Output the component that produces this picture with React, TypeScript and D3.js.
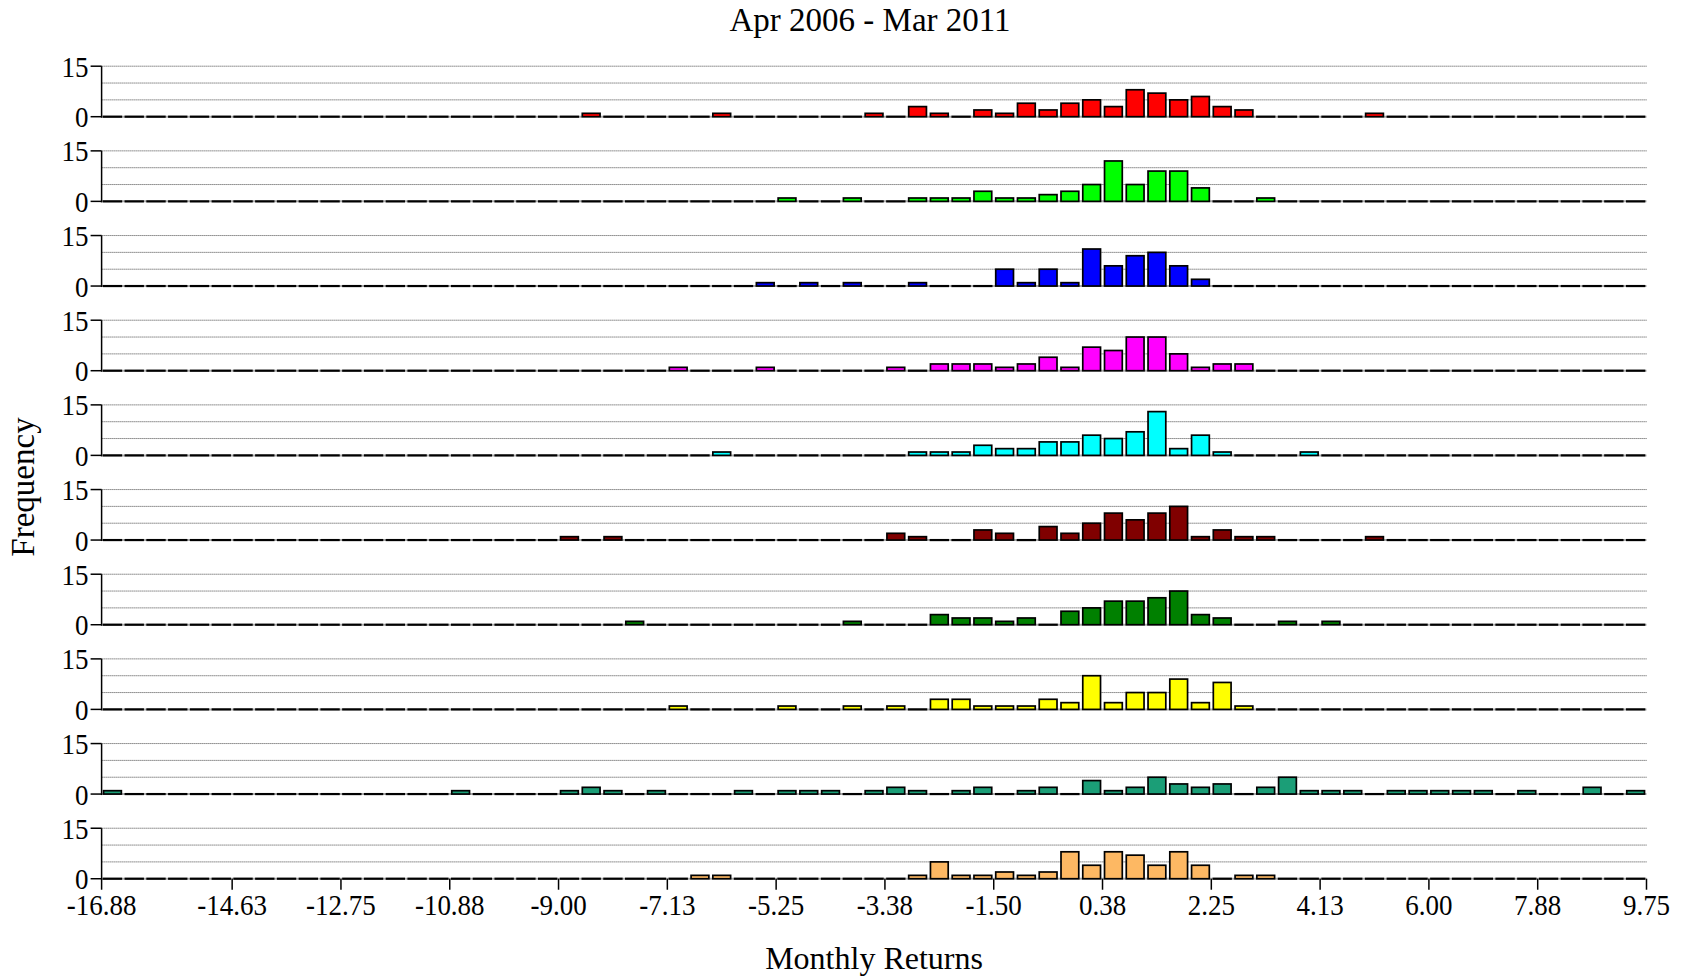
import React from "react";
import * as d3 from "d3";

const TITLE = "Apr 2006 - Mar 2011";
const X_LABEL = "Monthly Returns";
const Y_LABEL = "Frequency";

const X_MIN = -16.875;
const X_MAX = 9.75;
const BIN_WIDTH = 0.375;

const X_TICKS = [-16.875, -14.625, -12.75, -10.875, -9, -7.125, -5.25, -3.375, -1.5, 0.375, 2.25, 4.125, 6, 7.875, 9.75];
const X_TICK_LABELS = ["-16.88", "-14.63", "-12.75", "-10.88", "-9.00", "-7.13", "-5.25", "-3.38", "-1.50", "0.38", "2.25", "4.13", "6.00", "7.88", "9.75"];
const Y_TICKS = [0, 15];
const Y_GRID = [5, 10, 15];
const Y_MAX = 15;

const COLORS = ["#FF0000", "#00FF00", "#0000FF", "#FF00FF", "#00FFFF", "#800000", "#008000", "#FFFF00", "#1B9E77", "#FDB863"];

// counts per bin (71 bins of width 0.375 from -16.875 to 9.75)
const red = [
  0, 0, 0, 0, 0, 0, 0, 0, 0, 0,
  0, 0, 0, 0, 0, 0, 0, 0, 0, 0,
  0, 0, 1, 0, 0, 0, 0, 0, 1, 0,
  0, 0, 0, 0, 0, 1, 0, 3, 1, 0,
  2, 1, 4, 2, 4, 5, 3, 8, 7, 5,
  6, 3, 2, 0, 0, 0, 0, 0, 1, 0,
  0, 0, 0, 0, 0, 0, 0, 0, 0, 0, 0,
];
const green = [
  0, 0, 0, 0, 0, 0, 0, 0, 0, 0,
  0, 0, 0, 0, 0, 0, 0, 0, 0, 0,
  0, 0, 0, 0, 0, 0, 0, 0, 0, 0,
  0, 1, 0, 0, 1, 0, 0, 1, 1, 1,
  3, 1, 1, 2, 3, 5, 12, 5, 9, 9,
  4, 0, 0, 1, 0, 0, 0, 0, 0, 0,
  0, 0, 0, 0, 0, 0, 0, 0, 0, 0, 0,
];
const blue = [
  0, 0, 0, 0, 0, 0, 0, 0, 0, 0,
  0, 0, 0, 0, 0, 0, 0, 0, 0, 0,
  0, 0, 0, 0, 0, 0, 0, 0, 0, 0,
  1, 0, 1, 0, 1, 0, 0, 1, 0, 0,
  0, 5, 1, 5, 1, 11, 6, 9, 10, 6,
  2, 0, 0, 0, 0, 0, 0, 0, 0, 0,
  0, 0, 0, 0, 0, 0, 0, 0, 0, 0, 0,
];
const magenta = [
  0, 0, 0, 0, 0, 0, 0, 0, 0, 0,
  0, 0, 0, 0, 0, 0, 0, 0, 0, 0,
  0, 0, 0, 0, 0, 0, 1, 0, 0, 0,
  1, 0, 0, 0, 0, 0, 1, 0, 2, 2,
  2, 1, 2, 4, 1, 7, 6, 10, 10, 5,
  1, 2, 2, 0, 0, 0, 0, 0, 0, 0,
  0, 0, 0, 0, 0, 0, 0, 0, 0, 0, 0,
];
const cyan = [
  0, 0, 0, 0, 0, 0, 0, 0, 0, 0,
  0, 0, 0, 0, 0, 0, 0, 0, 0, 0,
  0, 0, 0, 0, 0, 0, 0, 0, 1, 0,
  0, 0, 0, 0, 0, 0, 0, 1, 1, 1,
  3, 2, 2, 4, 4, 6, 5, 7, 13, 2,
  6, 1, 0, 0, 0, 1, 0, 0, 0, 0,
  0, 0, 0, 0, 0, 0, 0, 0, 0, 0, 0,
];
const darkRed = [
  0, 0, 0, 0, 0, 0, 0, 0, 0, 0,
  0, 0, 0, 0, 0, 0, 0, 0, 0, 0,
  0, 1, 0, 1, 0, 0, 0, 0, 0, 0,
  0, 0, 0, 0, 0, 0, 2, 1, 0, 0,
  3, 2, 0, 4, 2, 5, 8, 6, 8, 10,
  1, 3, 1, 1, 0, 0, 0, 0, 1, 0,
  0, 0, 0, 0, 0, 0, 0, 0, 0, 0, 0,
];
const darkGreen = [
  0, 0, 0, 0, 0, 0, 0, 0, 0, 0,
  0, 0, 0, 0, 0, 0, 0, 0, 0, 0,
  0, 0, 0, 0, 1, 0, 0, 0, 0, 0,
  0, 0, 0, 0, 1, 0, 0, 0, 3, 2,
  2, 1, 2, 0, 4, 5, 7, 7, 8, 10,
  3, 2, 0, 0, 1, 0, 1, 0, 0, 0,
  0, 0, 0, 0, 0, 0, 0, 0, 0, 0, 0,
];
const yellow = [
  0, 0, 0, 0, 0, 0, 0, 0, 0, 0,
  0, 0, 0, 0, 0, 0, 0, 0, 0, 0,
  0, 0, 0, 0, 0, 0, 1, 0, 0, 0,
  0, 1, 0, 0, 1, 0, 1, 0, 3, 3,
  1, 1, 1, 3, 2, 10, 2, 5, 5, 9,
  2, 8, 1, 0, 0, 0, 0, 0, 0, 0,
  0, 0, 0, 0, 0, 0, 0, 0, 0, 0, 0,
];
const teal = [
  1, 0, 0, 0, 0, 0, 0, 0, 0, 0,
  0, 0, 0, 0, 0, 0, 1, 0, 0, 0,
  0, 1, 2, 1, 0, 1, 0, 0, 0, 1,
  0, 1, 1, 1, 0, 1, 2, 1, 0, 1,
  2, 0, 1, 2, 0, 4, 1, 2, 5, 3,
  2, 3, 0, 2, 5, 1, 1, 1, 0, 1,
  1, 1, 1, 1, 0, 1, 0, 0, 2, 0, 1,
];
const orange = [
  0, 0, 0, 0, 0, 0, 0, 0, 0, 0,
  0, 0, 0, 0, 0, 0, 0, 0, 0, 0,
  0, 0, 0, 0, 0, 0, 0, 1, 1, 0,
  0, 0, 0, 0, 0, 0, 0, 1, 5, 1,
  1, 2, 1, 2, 8, 4, 8, 7, 4, 8,
  4, 0, 1, 1, 0, 0, 0, 0, 0, 0,
  0, 0, 0, 0, 0, 0, 0, 0, 0, 0, 0,
];

const SERIES = [red, green, blue, magenta, cyan, darkRed, darkGreen, yellow, teal, orange];

const FONT = "'Liberation Serif', 'Times New Roman', serif";

export default function App() {
  const W = 1686;
  const H = 979;
  const left = 101.6;
  const right = 1646.5;
  const firstBase = 116.7;
  const step = 84.67;
  const panelH = 50.5;
  const midX = (left + right) / 2;

  const x = d3.scaleLinear().domain([X_MIN, X_MAX]).range([left, right]);
  const lastBase = firstBase + step * (SERIES.length - 1);

  return (
    <svg
      width={W}
      height={H}
      style={{ position: "absolute", left: 0, top: 0, background: "#fff" }}
      fontFamily={FONT}
    >
      <text x={midX - 4} y={31} fontSize={33} textAnchor="middle" fill="#000">
        {TITLE}
      </text>
      {SERIES.map((counts, si) => {
        const base = firstBase + si * step;
        const y = d3.scaleLinear().domain([0, Y_MAX]).range([base, base - panelH]);
        return (
          <g key={si}>
            {Y_GRID.map((g) => (
              <line
                key={g}
                x1={left}
                x2={right}
                y1={y(g)}
                y2={y(g)}
                stroke="#444"
                strokeWidth={1}
                strokeDasharray="1,1"
              />
            ))}
            <line x1={left} x2={right} y1={y(0)} y2={y(0)} stroke="#aaa" strokeWidth={2} />
            {counts.map((c, bi) => {
              const x0 = x(X_MIN + bi * BIN_WIDTH) + 2;
              const x1 = x(X_MIN + (bi + 1) * BIN_WIDTH) - 2;
              if (c === 0) {
                return (
                  <line key={bi} x1={x0 - 0.8} x2={x1 + 0.8} y1={y(0)} y2={y(0)} stroke="#000" strokeWidth={2.2} />
                );
              }
              return (
                <rect
                  key={bi}
                  x={x0}
                  y={y(c)}
                  width={x1 - x0}
                  height={y(0) - y(c)}
                  fill={COLORS[si]}
                  stroke="#000"
                  strokeWidth={1.7}
                />
              );
            })}
            <line x1={left} x2={left} y1={y(0) + 1} y2={y(Y_MAX)} stroke="#000" strokeWidth={1.5} />
            {Y_TICKS.map((t) => (
              <g key={t}>
                <line x1={left - 11} x2={left} y1={y(t)} y2={y(t)} stroke="#000" strokeWidth={1.5} />
                <text
                  transform={`translate(${left - 13}, ${y(t)}) scale(1, 1.12)`}
                  dy="0.35em"
                  fontSize={27}
                  textAnchor="end"
                  fill="#000"
                >
                  {t}
                </text>
              </g>
            ))}
          </g>
        );
      })}
      {X_TICKS.map((t, i) => (
        <g key={i}>
          <line x1={x(t)} x2={x(t)} y1={lastBase} y2={lastBase + 11} stroke="#000" strokeWidth={1.5} />
          <text
            transform={`translate(${x(t)}, 915) scale(1, 1.1)`}
            fontSize={27}
            textAnchor="middle"
            fill="#000"
          >
            {X_TICK_LABELS[i]}
          </text>
        </g>
      ))}
      <text x={midX} y={969} fontSize={32} textAnchor="middle" fill="#000">
        {X_LABEL}
      </text>
      <text
        transform={`translate(34, ${487}) rotate(-90)`}
        fontSize={33}
        textAnchor="middle"
        fill="#000"
      >
        {Y_LABEL}
      </text>
    </svg>
  );
}
